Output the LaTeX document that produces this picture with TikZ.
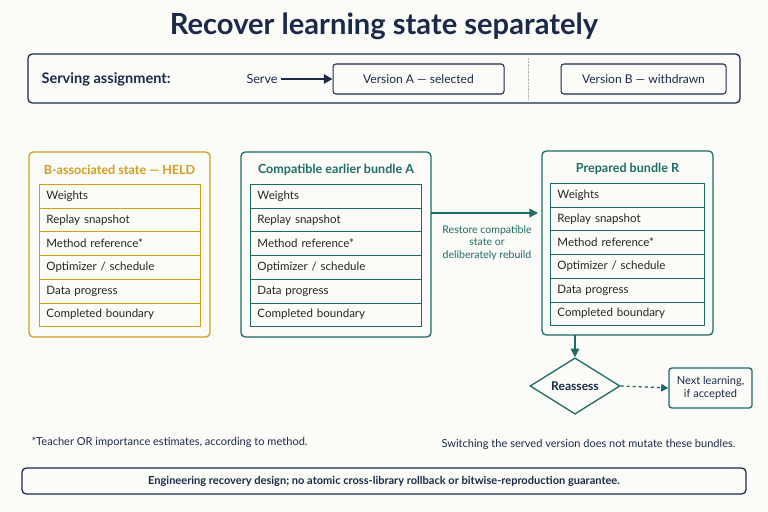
\documentclass[tikz,border=0pt]{standalone}
\usepackage{fontspec}
\setmainfont{Lato}
\usetikzlibrary{positioning}
\usetikzlibrary{shapes.geometric}
\usetikzlibrary{arrows.meta}
\definecolor{navy}{HTML}{1B2A4A}
\definecolor{teal}{HTML}{1F6B66}
\definecolor{gold}{HTML}{D39E1E}
\definecolor{paper}{HTML}{FBFBF7}
\newcommand{\fs}[1]{\fontsize{#1pt}{\dimexpr #1pt*6/5\relax}\selectfont}
\tikzset {
  % outer panels
  panel/.style = {
    draw = #1,
    line width = 1.3pt,
    rounded corners = 1.5mm
  },
  % one row of a bundle
  row/.style = {
    draw = #1,
    line width = 0.6pt,
    anchor = north west,
    minimum height = 23.7*0.35mm,
    inner xsep = 2.5mm,
    text = black!85,
    font = \fs{11.5}
  },
  tag/.style = {
    draw = navy,
    line width = 1pt,
    rounded corners = 1mm,
    minimum height = 30*0.35mm,
    font = \fs{12},
    text = navy
  },
  flow/.style = {
    draw = teal,
    line width = 1.5pt,
    -{Triangle[length=3mm,width=3mm]}
  }
}
\newcommand{\bundlerows}[4]{%
  \foreach \lbl [count=\i from 0] in {Weights, Replay snapshot, Method reference*,
      Optimizer / schedule, Data progress, Completed boundary}
    \node[row=#4, minimum width=(#2-#1)*0.35mm, text width=(#2-#1)*0.35mm-5mm]
      (#4-\i) at (#1, #3+\i*23.7) {\lbl};%
}
\begin{document}
\begin{tikzpicture}[x=0.35mm, y=-0.35mm]
  \useasboundingbox[fill=paper] (0,0) rectangle (768,512);

  \node[font=\bfseries\fs{29}, text=navy] (title) at (384,26)
    {Recover learning state separately};

  % serving assignment
  \draw[panel=navy] (28,54) rectangle (740,103);
  \node[anchor=west, font=\bfseries\fs{14.5}, text=navy] (assign) at (38,79) {Serving assignment:};
  \node[font=\fs{12.5}, text=navy] (serve) at (262,79) {Serve};
  \node[tag, minimum width=171*0.35mm] (verA) at (418.5,79) {Version A — selected};
  \node[tag, minimum width=165*0.35mm] (verB) at (643.5,79) {Version B — withdrawn};
  \draw[navy, line width=2pt, -{Triangle[length=3mm,width=3.2mm]}] (serve.east) -- (verA.west);
  \draw[gray!60, densely dotted] (528,58) -- (528,100);

  % held state
  \draw[panel=gold] (29,152) rectangle (210,337);
  \node[font=\bfseries\fs{12.5}, text=gold] (held) at (119.5,170) {B-associated state — HELD};
  \bundlerows{39}{200}{184}{gold}

  % earlier bundle
  \draw[panel=teal] (241,152) rectangle (431,337);
  \node[font=\bfseries\fs{12.5}, text=teal] (earlier) at (336,170) {Compatible earlier bundle A};
  \bundlerows{250}{421}{184}{teal}

  % prepared bundle
  \draw[panel=teal] (542,151) rectangle (713,335);
  \node[font=\bfseries\fs{12.5}, text=teal] (prepared) at (627.5,169) {Prepared bundle R};
  \bundlerows{550}{704}{183}{teal}

  \coordinate (earlier-out) at (431,213);
  \coordinate (prepared-in) at (538,213);
  \draw[flow] (earlier-out) -- (prepared-in);
  \node[font=\fs{10.5}, text=teal, align=center] (restore) at (487,243)
    {Restore compatible\\state or\\deliberately rebuild};

  \coordinate (prepared-out) at (575,335);
  \node[diamond, draw=teal, line width=1.3pt, minimum width=90*0.35mm,
    minimum height=48*0.35mm, inner sep=0pt, fill=paper,
    font=\bfseries\fs{12}, text=navy] (reassess) at (575,386) {Reassess};
  \draw[flow] (prepared-out) -- (reassess.north);
  \node[draw=teal, line width=1.3pt, rounded corners=1mm, minimum width=83*0.35mm,
    minimum height=40*0.35mm, align=center, font=\fs{11}, text=navy]
    (next) at (710.5,388) {Next learning,\\if accepted};
  \draw[teal, line width=1.3pt, dashed, -{Triangle[length=2.5mm,width=2.6mm]}]
    (reassess.east) -- (next.west);

  % notes
  \node[anchor=west, font=\fs{11}, text=navy] (note) at (28,442)
    {*Teacher OR importance estimates, according to method.};
  \node[anchor=east, font=\fs{11}, text=navy] (mutate) at (739,444)
    {Switching the served version does not mutate these bundles.};
  \node[draw=navy, line width=1.3pt, rounded corners=1.5mm, minimum width=724*0.35mm,
    minimum height=26*0.35mm, font=\bfseries\fs{11}, text=navy]
    (caveat) at (384,481)
    {Engineering recovery design; no atomic cross-library rollback or bitwise-reproduction guarantee.};
\end{tikzpicture}
\end{document}
